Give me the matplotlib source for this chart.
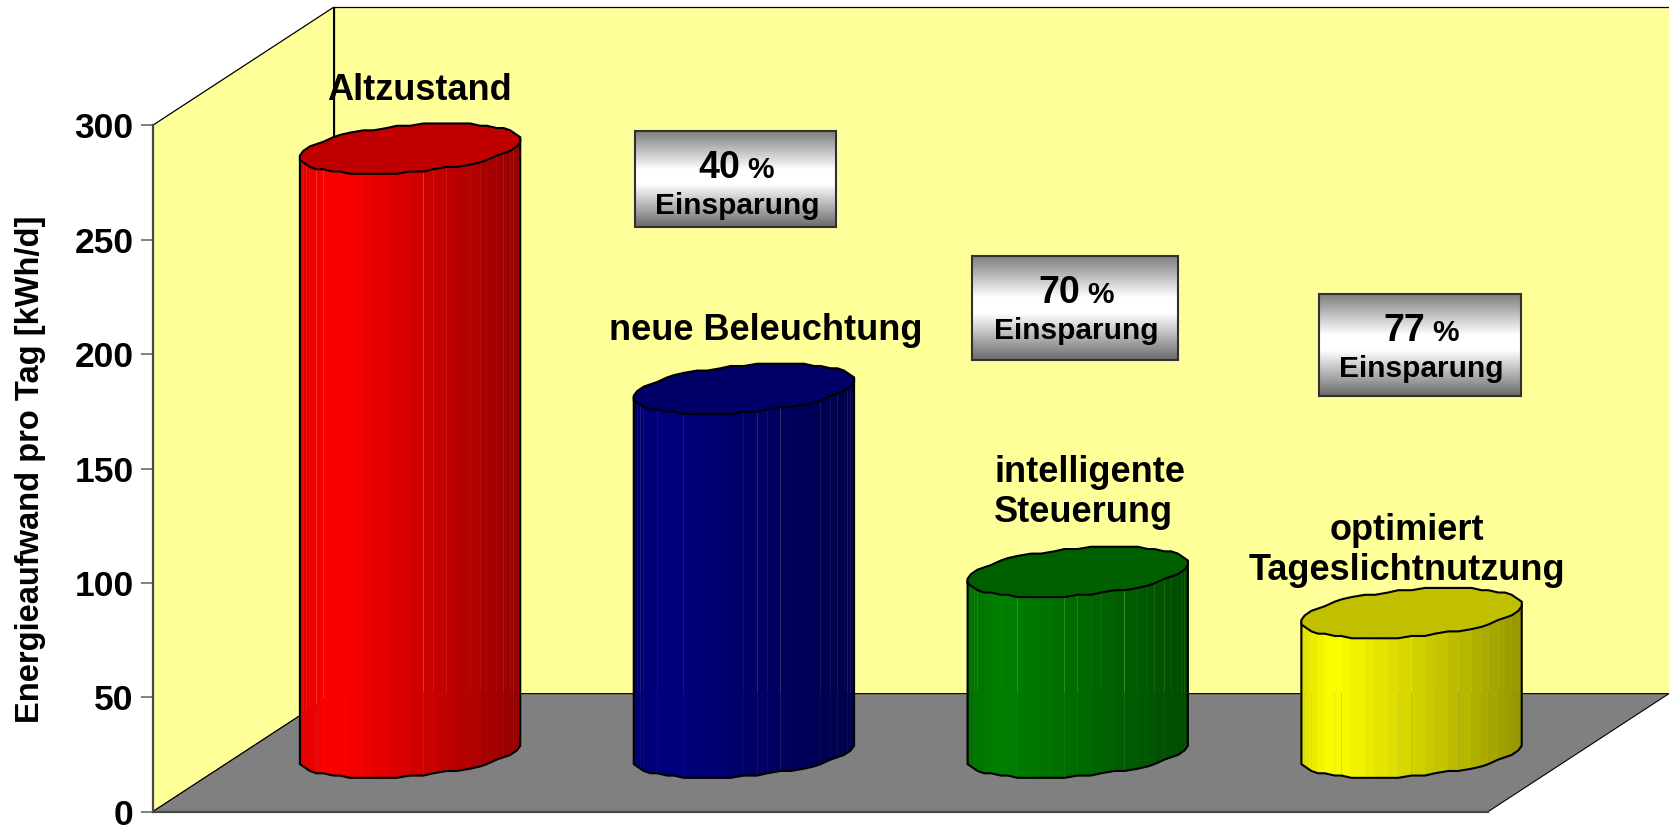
import numpy as np
import matplotlib
matplotlib.use('Agg')
import matplotlib.pyplot as plt
from matplotlib.patches import Rectangle

plt.rcParams['font.family'] = ['Liberation Sans', 'DejaVu Sans']
plt.rcParams['font.weight'] = 'bold'

# Daten
kategorien = ['Altzustand', 'neue Beleuchtung', 'intelligente\nSteuerung', 'optimiert\nTageslichtnutzung']
werte = [264, 159, 79, 61]
einsparung = [40, 70, 77]
y_ticks = [0, 50, 100, 150, 200, 250, 300]
farben = [(1, 0, 0), (0, 0, 0.5), (0, 0.5, 0), (1, 1, 0)]
deckel = ['#C00000', '#000066', '#006000', '#C0C000']

W, H = 1669, 825
DEPTH_X = 0.542   # Tiefe in Kategorien
DEPTH_Y = 51.6    # Tiefe in kWh/d
R_X = 0.311
R_D = 0.2137
RASTER_X = 1 / 100  # grobes Raster wie im Original
RASTER_Y = 1.0

fig = plt.figure(figsize=(W / 100, H / 100), dpi=100, facecolor='white')
ax = fig.add_axes([152.7 / W, 1 - 811.7 / H, (1488 - 152.7) / W, (811.7 - 125.3) / H])
ax.set_xlim(0, 4)
ax.set_ylim(0, 300)
ax.patch.set_visible(False)


def tief(x, y, d):
    return x + d * DEPTH_X, y + d * DEPTH_Y


def raster(v, r):
    return np.round(np.asarray(v) / r) * r


# Waende und Boden
xs, ys = zip(tief(0, 0, 0), tief(0, 300, 0), tief(0, 300, 1), tief(0, 0, 1))
ax.fill(xs, ys, fc='#FFFF99', ec='black', lw=0.9, clip_on=False, zorder=1)
xs, ys = zip(tief(0, 0, 1), tief(0, 300, 1), tief(4, 300, 1), tief(4, 0, 1))
ax.fill(xs, ys, fc='#FFFF99', ec='none', clip_on=False, zorder=1)
xs, ys = zip(tief(0, 300, 1), tief(4, 300, 1))
ax.plot(xs, ys, color='black', lw=0.9, clip_on=False, zorder=2)
xs, ys = zip(tief(0, 0, 1), tief(0, 300, 1))
ax.plot(xs, ys, color='black', lw=0.9, clip_on=False, zorder=2)
xs, ys = zip(tief(0, 0, 0), tief(4, 0, 0), tief(4, 0, 1), tief(0, 0, 1))
ax.fill(xs, ys, fc='#808080', ec='black', lw=0.8, clip_on=False, zorder=2)

# Zylinder
t0 = np.arctan2(R_D * DEPTH_X * 333.75, R_X * 333.75)
for i, wert in enumerate(werte):
    xc = i + 0.5 + 0.5 * DEPTH_X
    yc = 0.5 * DEPTH_Y

    t = np.linspace(t0 + np.pi, t0 + 2 * np.pi, 29)
    dx = raster(R_X * np.cos(t) + R_D * DEPTH_X * np.sin(t), RASTER_X)
    x = xc + dx
    dy = raster(R_D * DEPTH_Y * np.sin(t), RASTER_Y)
    u = (x - x.min()) / (x.max() - x.min())
    shade = np.interp(u, [0, 0.12, 1], [0.88, 1.0, 0.58])
    for k in range(len(t) - 1):
        col = tuple(c * shade[k] for c in farben[i])
        ax.fill([x[k], x[k + 1], x[k + 1], x[k]],
                [yc + dy[k], yc + dy[k + 1], yc + wert + dy[k + 1], yc + wert + dy[k]],
                fc=col, ec=col, lw=0.25, clip_on=False, zorder=3)

    # Umriss
    ax.plot(np.r_[x[0], x, x[-1]], np.r_[yc + wert + dy[0], yc + dy, yc + wert + dy[-1]],
            color='black', lw=1.5, clip_on=False, zorder=4)
    ta = np.linspace(t0 + np.pi, t0 + 3 * np.pi, 57)
    ax.fill(xc + raster(R_X * np.cos(ta) + R_D * DEPTH_X * np.sin(ta), RASTER_X),
            yc + wert + raster(R_D * DEPTH_Y * np.sin(ta), RASTER_Y),
            fc=deckel[i], ec='black', lw=1.5, clip_on=False, zorder=5)

# Achsen
ax.set_yticks(y_ticks)
ax.set_xticks([])
ax.tick_params(axis='y', length=8.6, width=1.4, color='#808080', labelsize=25.5, pad=5)
for s in ['top', 'right']:
    ax.spines[s].set_visible(False)
for s in ['left', 'bottom']:
    ax.spines[s].set_color('#484848')
    ax.spines[s].set_linewidth(1.6)
    ax.spines[s].set_zorder(6)

# Texte und Kaesten in Pixelkoordinaten
ov = fig.add_axes([0, 0, 1, 1])
ov.set_xlim(0, W)
ov.set_ylim(H, 0)
ov.axis('off')

ov.text(31, 469, 'Energieaufwand pro Tag [kWh/d]', rotation=90, ha='center', va='center', fontsize=23.5)

ov.text(419, 90, kategorien[0], ha='center', va='center', fontsize=26)
ov.text(766, 330, kategorien[1], ha='center', va='center', fontsize=26)
z3 = kategorien[2].split('\n')
ov.text(994, 472, z3[0], ha='left', va='center', fontsize=26)
ov.text(994, 513, z3[1], ha='left', va='center', fontsize=26)
z4 = kategorien[3].split('\n')
ov.text(1407, 530, z4[0], ha='center', va='center', fontsize=26)
ov.text(1407, 570, z4[1], ha='center', va='center', fontsize=26)

kaesten = [(635, 131, 836, 227), (972, 256, 1178, 360), (1319, 294, 1521, 396)]
verlauf = np.interp(np.linspace(0, 1, 100), [0, 0.4, 0.55, 1], [0.5, 1, 1, 0.42]).reshape(-1, 1)
for (x0, y0, x1, y1), e in zip(kaesten, einsparung):
    ov.imshow(verlauf, extent=(x0, x1, y1, y0), cmap='gray', vmin=0, vmax=1, aspect='auto', zorder=7)
    ov.add_patch(Rectangle((x0, y0), x1 - x0, y1 - y0, fc='none', ec='#303030', lw=1.5, zorder=8))
    xm = (x0 + x1) / 2
    ov.text(xm + 5, y0 + 37, str(e), ha='right', va='center', fontsize=27, zorder=9)
    ov.text(xm + 12, y0 + 39, '%', ha='left', va='center', fontsize=21.5, zorder=9)
    ov.text(xm + 1.5, y0 + 75, 'Einsparung', ha='center', va='center', fontsize=21.5, zorder=9)
ov.set_xlim(0, W)
ov.set_ylim(H, 0)

fig.savefig('out.png', dpi=100)
